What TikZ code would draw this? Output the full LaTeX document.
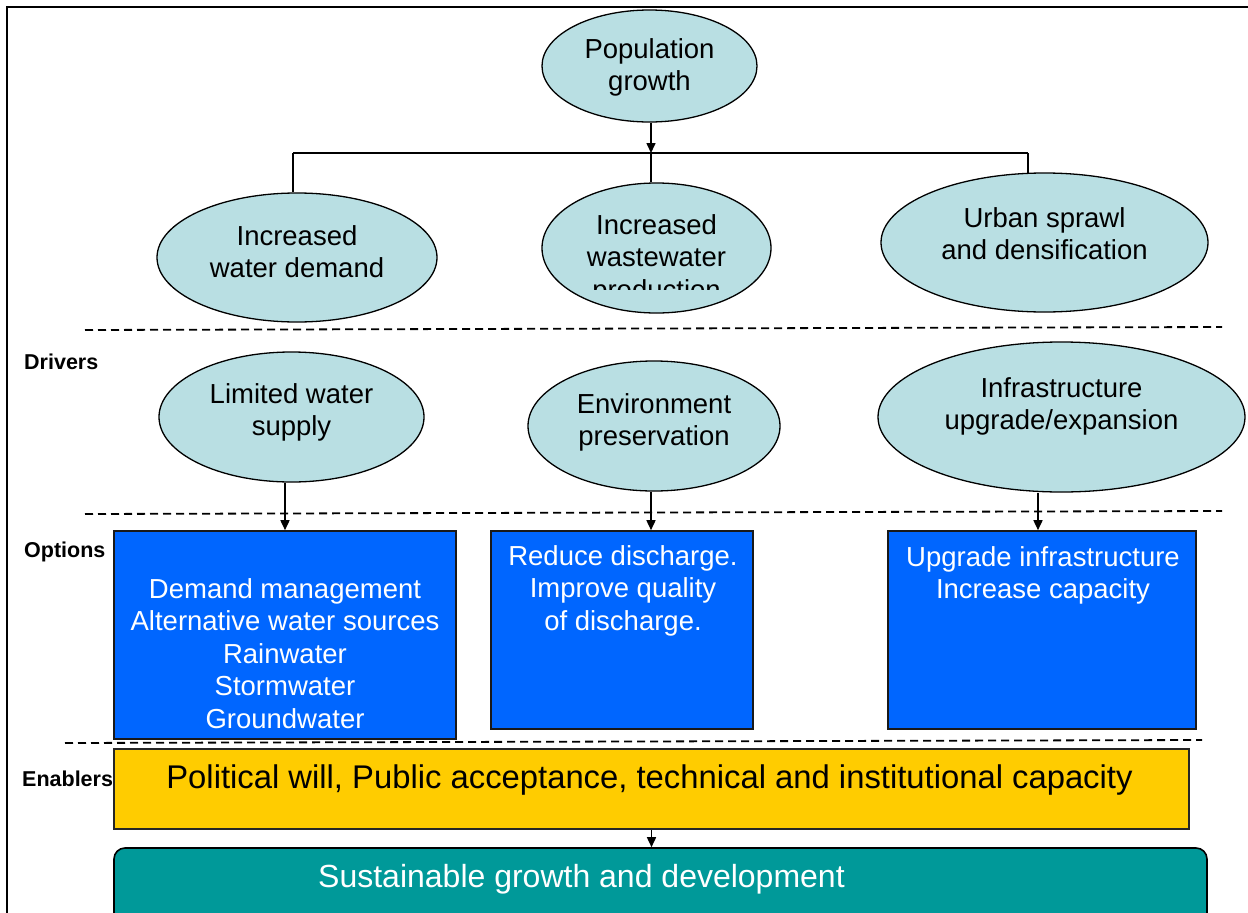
\documentclass[tikz,border=0pt]{standalone}
\usepackage{fontspec}
\setmainfont{Liberation Sans}
\usetikzlibrary{arrows.meta,calc,shapes.geometric}
\definecolor{ellfill}{RGB}{185,223,227}
\definecolor{optblue}{RGB}{0,102,255}
\definecolor{enyellow}{RGB}{255,204,0}
\definecolor{outteal}{RGB}{0,153,153}
\tikzset{
  ell/.style={ellipse, draw=black, line width=1.3pt, fill=ellfill, inner sep=0pt},
  optbox/.style={rectangle, draw=black!90, line width=1.6pt, fill=optblue, inner sep=0pt},
  txt/.style={inner sep=0pt, anchor=north, align=center, font=\fontsize{27.5}{32.5}\selectfont},
  wtxt/.style={txt, text=white},
  bigtxt/.style={inner sep=0pt, anchor=base, font=\fontsize{32}{38}\selectfont},
  sect/.style={inner sep=0pt, anchor=base west, font=\fontsize{21.5}{25}\selectfont\bfseries},
  conn/.style={line width=1.6pt},
  arr/.style={line width=1.6pt, -{Triangle[length=10pt,width=9pt]}},
  sep/.style={line width=1.8pt, dash pattern=on 8pt off 5pt}
}
\begin{document}
\begin{tikzpicture}[x=1pt,y=-1pt]
\useasboundingbox (0,0) rectangle (1248,913);
\clip (0,0) rectangle (1248,913);
% outer frame
\draw[line width=2pt] (7,920) -- (7,6.5) -- (1260,6.5);

% ellipses
\node[ell, minimum width=215pt, minimum height=112pt] (pop) at (649.5,66) {};
\node[ell, minimum width=280pt, minimum height=129pt] (wd) at (297,257.5) {};
\node[ell, minimum width=229pt, minimum height=130pt] (ww) at (656.5,248) {};
\node[ell, minimum width=327pt, minimum height=139pt] (us) at (1044.5,242.5) {};
\node[ell, minimum width=265pt, minimum height=130pt] (ls) at (291.5,417) {};
\node[ell, minimum width=252pt, minimum height=130pt] (env) at (654,426) {};
\node[ell, minimum width=367pt, minimum height=150pt] (inf) at (1061.5,417) {};

\node[txt] (popT) at (649.5,35.25) {\strut Population\\growth};
\node[txt] (wdT) at (297,222.25) {\strut Increased\\water demand};
\begin{scope}
\clip (540,180) rectangle (775,289);
\node[txt] (wwT) at (656.5,211.25) {\strut Increased\\wastewater\\production};
\end{scope}
\node[txt] (usT) at (1044.5,204.25) {\strut Urban sprawl\\and densification};
\node[txt] (lsT) at (291.5,380.25) {\strut Limited water\\supply};
\node[txt] (envT) at (654,390.25) {\strut Environment\\preservation};
\node[txt] (infT) at (1061.5,374.25) {\strut Infrastructure\\upgrade/expansion};

% tree connectors
\coordinate (jM) at (651,153);
\coordinate (jL) at (293,153);
\coordinate (jR) at (1028,153);
\draw[conn] (jL) -- (jR);
\draw[arr] (pop.south -| jM) -- (jM);
\draw[conn] (jL) -- (jL |- wd.north);
\draw[conn] (jM) -- (jM |- ww.north);
\draw[conn] (jR) -- ($(jR |- us.north)+(0,1)$);

% separators
\coordinate (s1a) at (85,330); \coordinate (s1b) at (1222,327);
\coordinate (s2a) at (85,514); \coordinate (s2b) at (1222,511);
\coordinate (s3a) at (65,743); \coordinate (s3b) at (1202,740);
\draw[sep] (s1a) -- (s1b);
\draw[sep] (s2a) -- (s2b);
\draw[sep] (s3a) -- (s3b);

% section labels
\node[sect] (drv) at (24,369) {Drivers};
\node[sect] (opt) at (24,557) {Options};
\node[sect] (enb) at (22,786) {Enablers};

% option boxes
\node[optbox, minimum width=342pt, minimum height=208pt] (b1) at (285,635) {};
\node[optbox, minimum width=262pt, minimum height=198pt] (b2) at (622,630) {};
\node[optbox, minimum width=308pt, minimum height=198pt] (b3) at (1042,630) {};
\node[wtxt] (b1T) at (285,575.25) {\strut Demand management\\Alternative water sources\\Rainwater\\Stormwater\\Groundwater};
\node[wtxt] (b2T) at (623,542.25) {\strut Reduce discharge.\\Improve quality\\of discharge.};
\node[wtxt] (b3T) at (1043,543.25) {\strut Upgrade infrastructure\\Increase capacity};

\draw[arr] (b1.north |- ls.south) -- (b1.north);
\draw[arr] ([xshift=-3pt]env.south) -- ([xshift=-3pt]env.south |- b2.north);
\draw[arr] ([xshift=-23.5pt,yshift=-0.6pt]inf.south) -- ([xshift=-23.5pt]inf.south |- b3.north);

% enablers and outcome
\node[rectangle, draw=black!85, line width=1.4pt, fill=enyellow, minimum width=1075pt, minimum height=80pt, inner sep=0pt] (yb) at (651.5,789) {};
\node[bigtxt, font=\fontsize{32.8}{38}\selectfont] (ybT) at (649.5,788) {Political will, Public acceptance, technical and institutional capacity};
\node[rectangle, rounded corners=11pt, draw=black, line width=1.6pt, fill=outteal, minimum width=1093pt, minimum height=100pt, inner sep=0pt] (tb) at (660.5,898) {};
\node[bigtxt, text=white] (tbT) at (581.5,887) {Sustainable growth and development};
\draw[arr] (yb.south) -- (yb.south |- tb.north);
\end{tikzpicture}
\end{document}
